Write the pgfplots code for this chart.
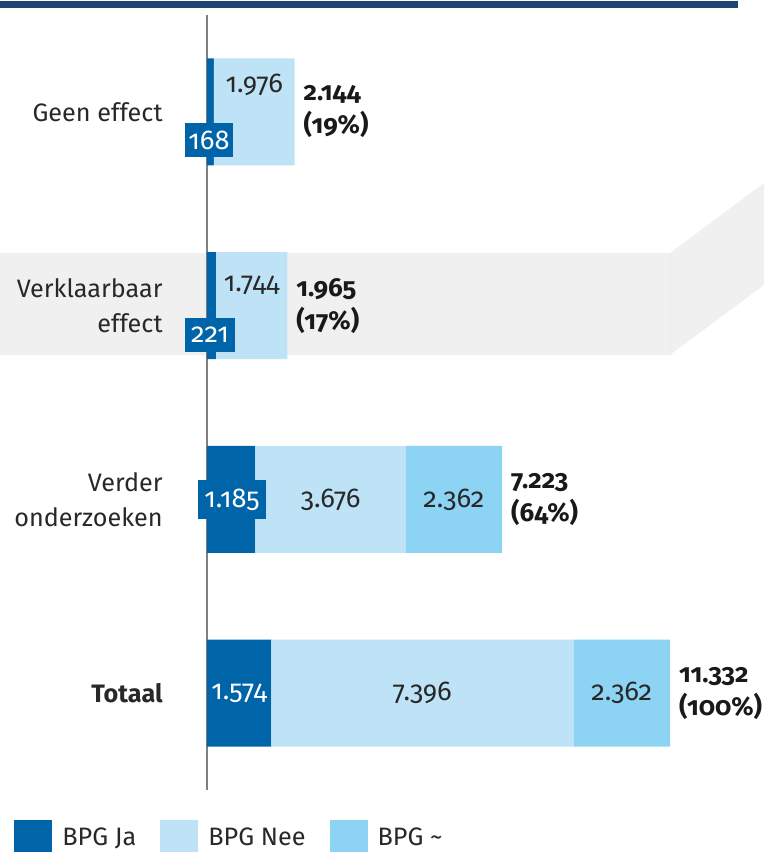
\documentclass[border=0pt]{standalone}
\usepackage{fontspec}
\setmainfont{Fira Sans}[Numbers=OldStyle]
\usepackage{pgfplots}
\pgfplotsset{compat=1.18}

\definecolor{ja}{RGB}{0,101,168}
\definecolor{nee}{RGB}{190,227,246}
\definecolor{tilde}{RGB}{141,211,244}
\definecolor{band}{RGB}{240,240,240}
\definecolor{topline}{RGB}{30,68,113}
\definecolor{txt}{RGB}{40,40,40}
\newcommand\lbl{\fontsize{12.6}{17.5}\selectfont}
\newcommand\num{\fontsize{13.6}{17}\selectfont}
\newcommand\tnum{\fontsize{13}{16.5}\selectfont}

\begin{document}
\begin{tikzpicture}[
  val/.style={font=\num, text=txt},
  tot/.style={anchor=west, align=left, font=\tnum\bfseries, text=black!90, xshift=1pt},
  box/.style={fill=ja, text=white, font=\num, inner sep=1pt},
]
% background shapes, in pixels of the reference
\begin{scope}[x=0.5pt,y=-0.5pt]
\fill[band] (0,253) -- (670,253) -- (764,183) -- (764,285) -- (670,355) -- (0,355) -- cycle;
\draw[black!8, line width=0.4pt] (670,253) -- (670,355);
\fill[topline] (0,0.5) rectangle (738,8);
\end{scope}

\begin{axis}[
  at={(103.5pt,-395pt)}, anchor=south west,
  scale only axis, width=278.5pt, height=387.5pt, clip=false,
  xbar stacked, reverse stacked plots=false, bar width=0.553,
  xmin=0, xmax=13632, ymin=-0.5, ymax=3.5,
  axis x line=none, axis y line*=left,
  y axis line style={black!50, line width=1.1pt},
  ytick={0,1,2,3}, major tick length=0pt,
  yticklabels={\textbf{Totaal}, Verder\\onderzoeken, Verklaarbaar\\effect, Geen effect},
  yticklabel style={align=right, anchor=east, inner sep=0pt, xshift=-22pt, font=\lbl, text=txt},
  legend columns=3,
  legend style={at={(-0.3465,-0.062)}, anchor=west, draw=none, fill=none, inner sep=0pt,
    font=\lbl, text=txt, nodes={inner sep=0pt},
    /tikz/every odd column/.append style={column sep=5pt},
    /tikz/every even column/.append style={column sep=12pt}},
  legend cell align=left,
  legend image code/.code={\fill[#1] (0pt,-9pt) rectangle (19pt,9pt);},
]
\addplot[fill=ja, draw=none] coordinates {(1574,0) (1185,1) (221,2) (168,3)};
\addlegendentry{BPG Ja}
\addplot[fill=nee, draw=none] coordinates {(7396,0) (3676,1) (1744,2) (1976,3)};
\addlegendentry{BPG Nee}
\addplot[fill=tilde, draw=none] coordinates {(2362,0) (2362,1) (0,2) (0,3)};
\addlegendentry{BPG \textasciitilde}

% segment values
\node[val] at (axis cs:1156,3.139) {1.976};
\node[val] at (axis cs:1093,2.106) {1.744};
\node[val] at (axis cs:3028,1) {3.676};
\node[val] at (axis cs:6043,1) {2.362};
\node[val] at (axis cs:5272,0) {7.396};
\node[val] at (axis cs:10151,0) {2.362};
% BPG Ja values in dark boxes
\node[box, minimum width=24pt, minimum height=17pt] at (axis cs:49,2.855) {168};
\node[box, minimum width=25pt, minimum height=17pt] at (axis cs:73,1.848) {221};
\node[box, minimum width=34pt, minimum height=19.5pt] at (axis cs:612,1) {1.185};
\node[box] at (axis cs:787,0) {1.574};
% totals
\node[tot] at (axis cs:2144,3) {2.144\\(19\%)};
\node[tot] at (axis cs:1965,2) {1.965\\(17\%)};
\node[tot] at (axis cs:7223,1) {7.223\\(64\%)};
\node[tot] at (axis cs:11332,0) {11.332\\(100\%)};
\end{axis}
\pgfresetboundingbox
\path[use as bounding box] (0pt,0pt) rectangle (382pt,-426pt);
\end{tikzpicture}
\end{document}
